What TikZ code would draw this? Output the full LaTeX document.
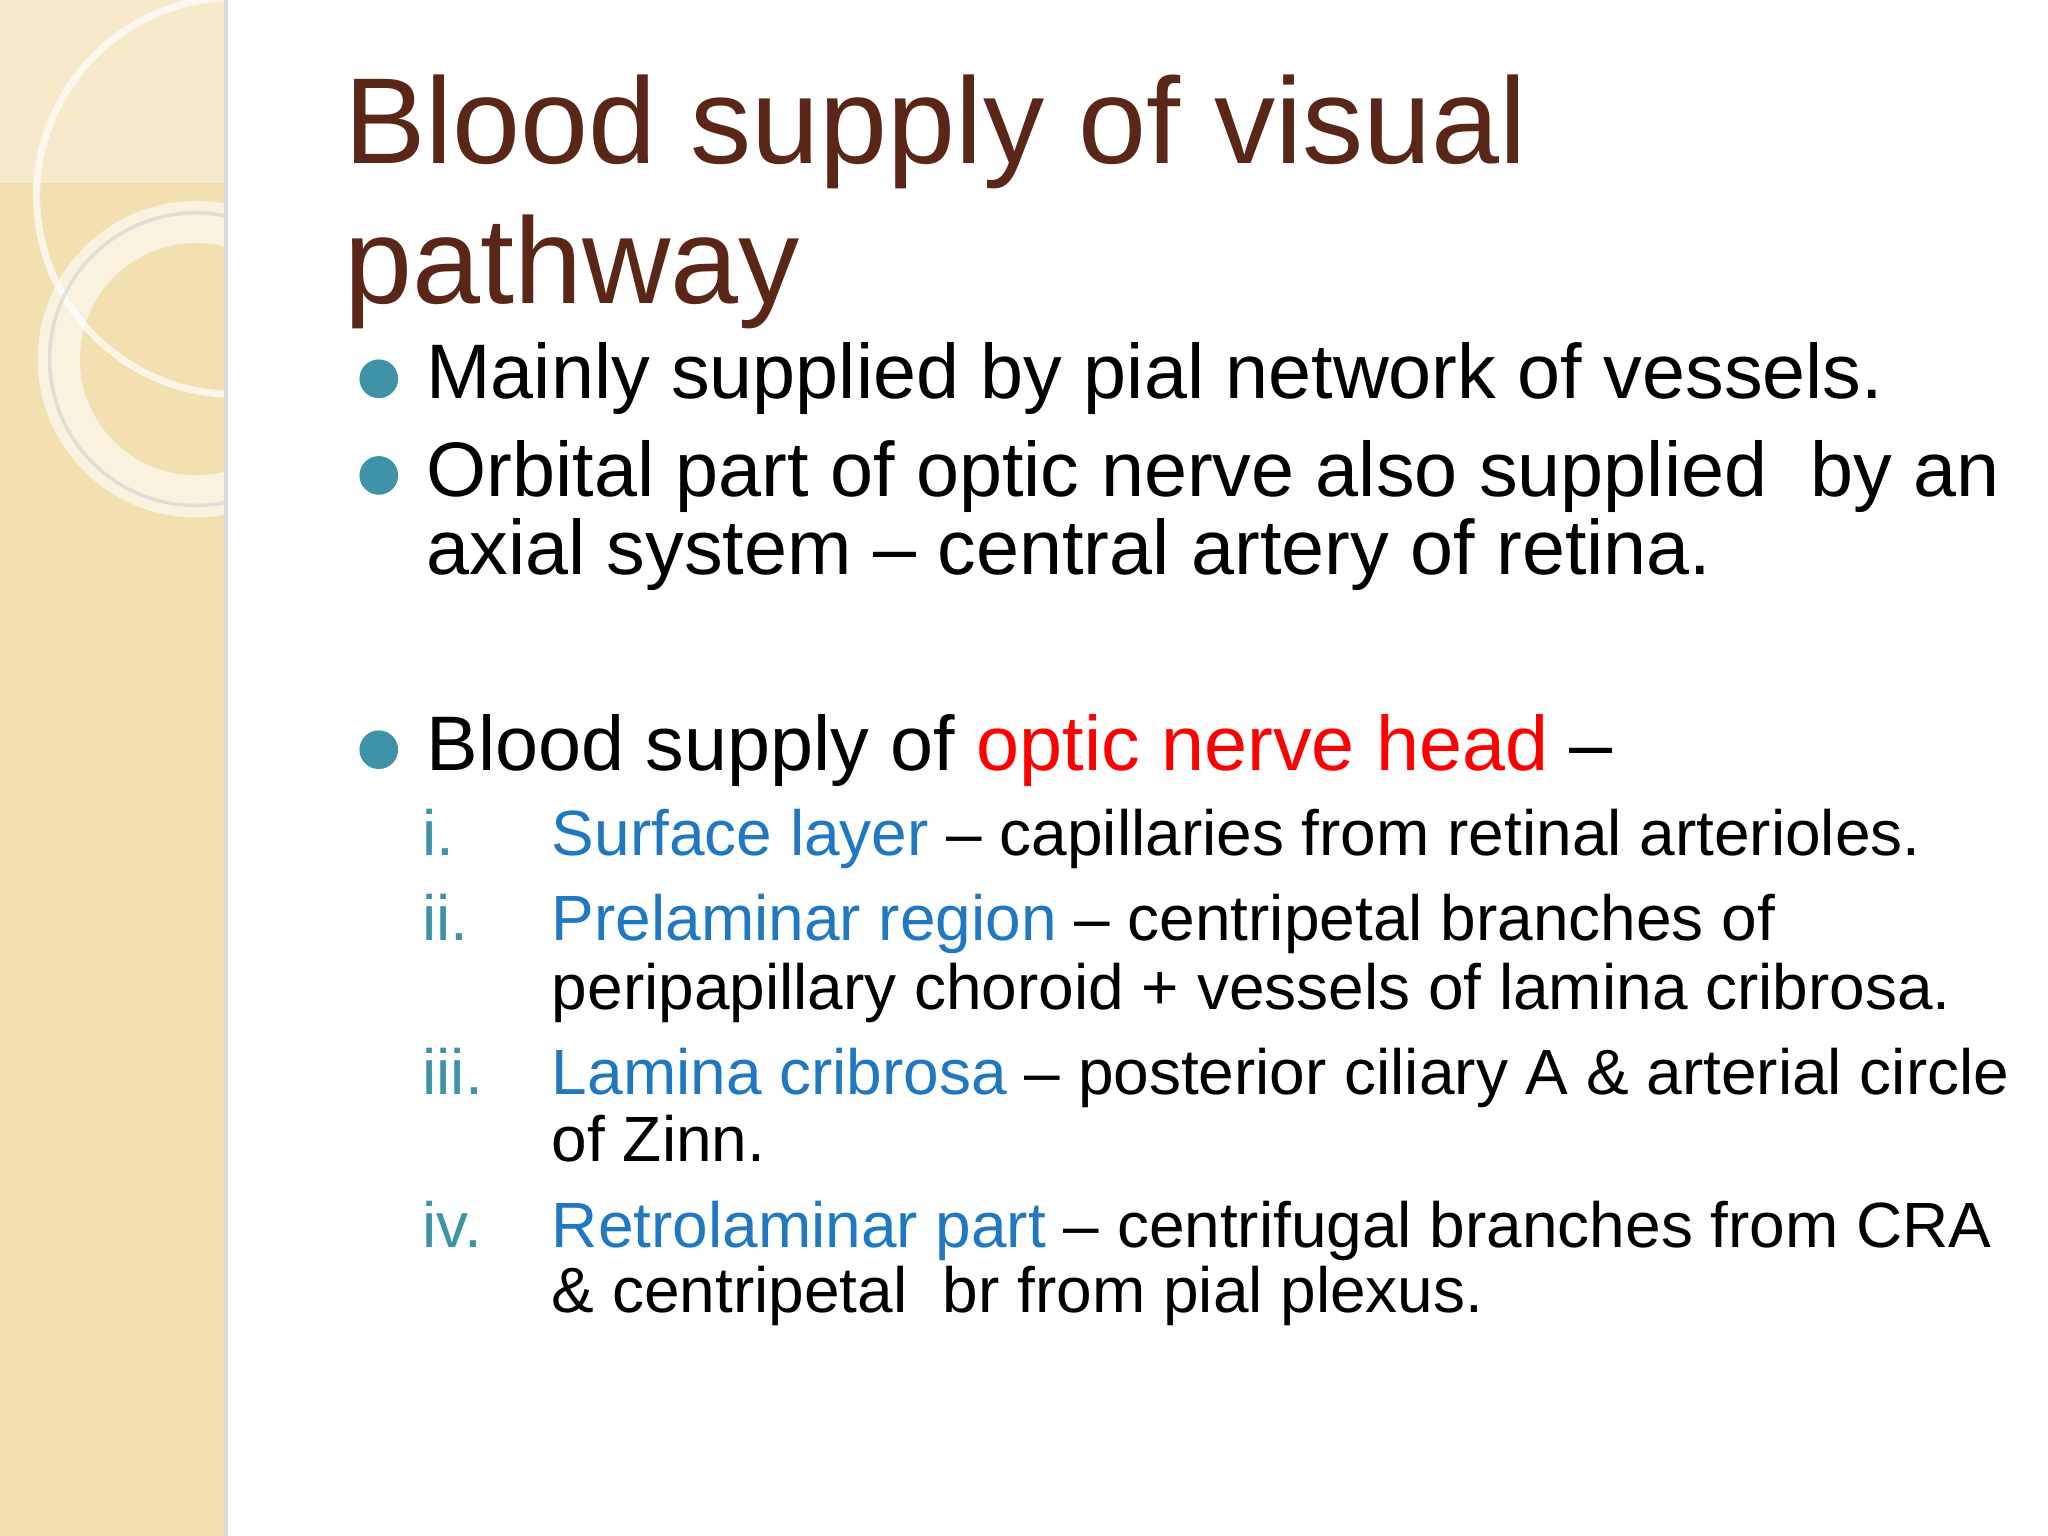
\documentclass[tikz,border=0pt]{standalone}
\usepackage{fontspec}
\setmainfont{Liberation Sans}
\definecolor{strip}{HTML}{F2E0B0}
\definecolor{titlec}{HTML}{5A2618}
\definecolor{bul}{HTML}{3E93A8}
\definecolor{blu}{HTML}{1F78C1}
\definecolor{rom}{HTML}{3E93A8}
\begin{document}
\begin{tikzpicture}[x=0.013061cm,y=-0.013061cm,
  body/.style={anchor=base west,inner sep=0pt,font=\fontsize{22}{26}\selectfont},
  sub/.style={anchor=base west,inner sep=0pt,font=\fontsize{18.2}{22}\selectfont},
  dotb/.style={circle,fill=bul,inner sep=0pt,minimum size=11pt}]
\useasboundingbox (0,0) rectangle (1568,1176);
\fill[white] (0,0) rectangle (1568,1176);
\fill[strip] (0,0) rectangle (173,1176);
\fill[white,opacity=0.35] (0,0) rectangle (173,140);
\begin{scope}
\clip (0,0) rectangle (173,1176);
\draw[white,opacity=0.7,line width=2pt] (180,150) circle (152);
\draw[white,opacity=0.6,line width=12pt] (150,275) circle (105);
\draw[gray!40,opacity=0.5,line width=1pt] (150,275) circle (112);
\end{scope}
\draw[gray!30,line width=1pt] (173,0) -- (173,1176);
\node[anchor=base west,inner sep=0pt,text=titlec,font=\fontsize{34.8}{40}\selectfont] (t1) at (263,125) {Blood supply of visual};
\node[anchor=base west,inner sep=0pt,text=titlec,font=\fontsize{34.8}{40}\selectfont] (t2) at (263,232) {pathway};
\node[dotb] (d1) at (290,290) {};
\node[body] (b1) at (326,305) {Mainly supplied by pial network of vessels.};
\node[dotb] (d2) at (290,364) {};
\node[body] (b2) at (326,380) {Orbital part of optic nerve also supplied\ \ by an};
\node[body] (b2b) at (326,440) {axial system -- central artery of retina.};
\node[dotb] (d3) at (290,574) {};
\node[body] (b3) at (326,590) {Blood supply of \textcolor{red}{optic nerve head} --};
\node[sub,text=rom] (r1) at (323,655) {i.};
\node[sub] (s1) at (422,655) {\textcolor{blu}{Surface layer} -- capillaries from retinal arterioles.};
\node[sub,text=rom] (r2) at (323,720) {ii.};
\node[sub] (s2) at (422,720) {\textcolor{blu}{Prelaminar region} -- centripetal branches of};
\node[sub] (s2b) at (422,773) {peripapillary choroid + vessels of lamina cribrosa.};
\node[sub,text=rom] (r3) at (323,838) {iii.};
\node[sub] (s3) at (422,838) {\textcolor{blu}{Lamina cribrosa} -- posterior ciliary A \& arterial circle};
\node[sub] (s3b) at (422,889) {of Zinn.};
\node[sub,text=rom] (r4) at (323,955) {iv.};
\node[sub] (s4) at (422,955) {\textcolor{blu}{Retrolaminar part} -- centrifugal branches from CRA};
\node[sub] (s4b) at (422,1005) {\& centripetal\ \ br from pial plexus.};
\end{tikzpicture}
\end{document}
